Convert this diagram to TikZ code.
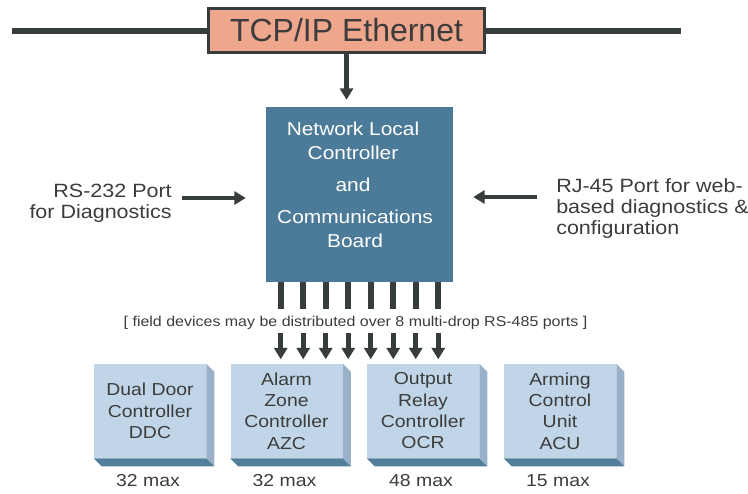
\documentclass[tikz,border=0pt]{standalone}
\usepackage{fontspec}
\setmainfont{Liberation Sans}
\newfontfamily\widesans[FakeStretch=1.12]{Liberation Sans}
\usetikzlibrary{arrows.meta}

\definecolor{netsalmon}{RGB}{238,166,140}
\definecolor{linegray}{RGB}{55,60,60}
\definecolor{boardblue}{RGB}{76,123,153}
\definecolor{unitface}{RGB}{193,213,232}
\definecolor{unitside}{RGB}{152,176,200}
\definecolor{unitbottom}{RGB}{82,125,155}
\definecolor{txtgray}{RGB}{60,60,60}

\tikzset{
  netbox/.style={draw=linegray, line width=2.25pt, fill=netsalmon, minimum width=207pt, minimum height=33pt, inner sep=0pt, text=txtgray, font=\fontsize{24}{28}\selectfont},
  busline/.style={draw=linegray, line width=4.5pt},
  boardbox/.style={fill=boardblue, minimum width=140.25pt, minimum height=131.25pt, inner sep=0pt},
  boardtext/.style={text=white, align=center, inner sep=0pt, font=\widesans\fontsize{14}{18}\selectfont},
  sidetext/.style={text=txtgray, inner sep=0pt, font=\widesans\fontsize{14.4}{16}\selectfont},
  fieldtext/.style={text=txtgray, inner sep=0pt, font=\widesans\fontsize{10.7}{13}\selectfont},
  unitbox/.style={fill=unitface, minimum width=84pt, minimum height=70.5pt, inner sep=0pt, align=center, text=txtgray, font=\widesans\fontsize{13}{16}\selectfont},
  maxlabel/.style={text=txtgray, inner sep=0pt, font=\widesans\fontsize{13}{16}\selectfont},
  fatarrow/.style={draw=linegray, line width=3.4pt, -{Triangle[length=8.5pt,width=9.75pt]}},
  portbar/.style={draw=linegray, line width=4.5pt},
}

\begin{document}
\begin{tikzpicture}[x=0.75pt,y=0.75pt,yscale=-1,xscale=1]
\useasboundingbox (0,0) rectangle (748,493);

%Ethernet bus and box
\node[netbox] (tcp) at (346.5,30.5) {TCP/IP Ethernet};
\coordinate (busl) at (12,30.5);
\coordinate (busr) at (681,30.5);
\draw[busline] (busl) -- (tcp.west);
\draw[busline] (tcp.east) -- (busr);

%Controller board
\node[boardbox] (board) at (359.5,194.5) {};
\node[boardtext] (boardtop) at (353,140.5) {Network Local\\Controller};
\node[boardtext] (boardand) at (353,185) {and};
\node[boardtext] (boardbot) at (355,228.5) {Communications\\Board};
\draw[fatarrow, shorten >=5.25pt] (tcp.south) -- (tcp.south |- board.north);

%Side ports
\node[sidetext, align=right, anchor=east] (rstxt) at (172,203) {RS-232 Port\\for Diagnostics};
\node[sidetext, align=left, anchor=west] (rjtxt) at (556,208.5) {RJ-45 Port for web-\\based diagnostics \&\\configuration};
\coordinate (rsin) at (182,198);
\coordinate (rjin) at (537,197);
\draw[fatarrow, shorten >=15pt] (rsin) -- (rsin -| board.west);
\draw[fatarrow, shorten >=15pt] (rjin) -- (rjin -| board.east);

%RS-485 ports
\foreach \i in {0,...,7}{
  \draw[portbar] (board.south west) ++(15+22.5*\i,0) -- ++(0,27);
  \draw[fatarrow] (board.south west) ++(15+22.5*\i,51) -- ++(0,26);
}
\node[fieldtext] (fieldtxt) at (355.5,323) {[ field devices may be distributed over 8 multi-drop RS-485 ports ]};

%Field devices
\foreach \nm/\cx/\txt/\num in {ddc/150/{Dual Door\\Controller\\DDC}/32, azc/286.5/{Alarm\\Zone\\Controller\\AZC}/32, ocr/423/{Output\\Relay\\Controller\\OCR}/48, acu/560/{Arming\\Control\\Unit\\ACU}/15}{
  \node[unitbox] (\nm) at (\cx,411) {\txt};
  \fill[unitside] (\nm.north east) -- ++(8,8) -- ([shift={(8,8)}]\nm.south east) -- (\nm.south east) -- cycle;
  \fill[unitbottom] (\nm.south west) -- (\nm.south east) -- ([shift={(8,8)}]\nm.south east) -- ([shift={(8,8)}]\nm.south west) -- cycle;
  \node[maxlabel] (\nm max) at ([shift={(-2,22)}]\nm.south) {\num\ max};
}

\end{tikzpicture}
\end{document}
